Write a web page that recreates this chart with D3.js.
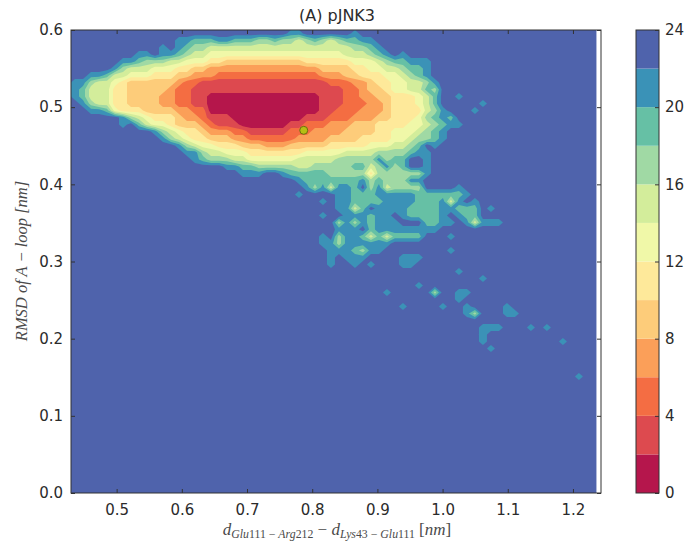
<!DOCTYPE html>
<html>
<head>
<meta charset="utf-8">
<script src="https://cdnjs.cloudflare.com/ajax/libs/d3/7.8.5/d3.min.js"></script>
<style>
  body { margin: 0; background: #fff; }
  text { font-family: "DejaVu Sans", sans-serif; fill: #2b2b2b; }
  .math { font-family: "Liberation Serif", serif; font-style: italic; fill: #4a4a4a; }
</style>
</head>
<body>
<div id="chart"></div>
<script>
//axis ticks
let xTicks = [0.5, 0.6, 0.7, 0.8, 0.9, 1.0, 1.1, 1.2]
let yTicks = [0.0, 0.1, 0.2, 0.3, 0.4, 0.5, 0.6]
let barTicks = [0, 4, 8, 12, 16, 20, 24]

//free energy bands, 2 units each, low to high
let bandEdges = [0, 2, 4, 6, 8, 10, 12, 14, 16, 18, 20, 22, 24]
let bandColors = ['#b5164c', '#dd4a4f', '#f46d43', '#fb9f59', '#fdcc7a', '#fee99a',
                  '#f0f8a8', '#d3ed9b', '#a0d9a4', '#66c0a5', '#3a92b7', '#4f63ac']

//histogram bins
let xStart = 0.43
let xBin = 0.01227
let yStart = 0.6
let yBin = 0.00907

//one string per y bin from the top, one character per x bin: band index in hex, '.' is top band
//spaces are just there to count columns
let energyRows = [
  '..... ..... ..... ..... ..... ..aa. ..... a....',
  '..... ..... ...aa 999aa 99988 98878 98789 9aa..',
  '..... ..... .a.a9 88777 77777 77777 77777 889a.',
  '..... ...aa .aa98 77666 66666 66666 66667 7789a .a...',
  '..... .aa98 88776 66554 44444 44445 55555 66678 99aaa',
  '..... a8777 66655 44333 33333 33333 34444 55667 7899a',
  '..aa9 77666 55544 33322 22222 22222 23334 45556 6789a',
  'aa877 65444 44432 21111 11111 11111 11222 33455 66778 a....',
  'a9777 55444 44322 11111 11111 11111 11112 23445 66779 8....',
  'a9777 55444 43322 11000 00000 00000 01112 23344 55567 9..a.',
  '.a877 55444 43322 11000 00000 00000 01112 22334 55567 9.... .a...',
  '..aa9 65554 44433 22000 00000 00000 01122 23334 55557 8a... a....',
  '..... .a876 55543 32111 00000 00001 11222 33344 55568 9a9..',
  '..... .a.97 66544 43211 10000 00112 22333 44455 55667 89aa.',
  '..... ..... a8765 54333 22111 11222 33334 44455 66678 9a...',
  '..... ..... .a876 55444 33222 22233 33444 45555 66788 9a...',
  '..... ..... ...a8 76655 54443 33444 44555 55666 7789. a....',
  '..... ..... ....a a8776 66555 55556 66667 77788 889aa',
  '..... ..... ..... a9888 77666 66677 77788 888a8 99..a',
  '..... ..... ..... ....a a9988 88877 88888 9978a 89..a',
  '..... ..... ..... ..... .aaa. .a999 99888 88588 8888a',
  '..... ..... ..... ..... ..... ...a9 99999 9a898 88aa.',
  '..... ..... ..... ..... ..... ....a 8a7aa 9.8a7 8888. ...a.',
  '..... ..... ..... ..... ..... ...a. ...aa 999aa aaa99 9999a',
  '..... ..... ..... ..... ..... ..... .a.aa 9999a aaa99 9a7a. a....',
  '..... ..... ..... ..... ..... ..... ...aa 79.aa aa999 9aa99 9.a..',
  '..... ..... ..... ..... ..... ..... .a..a aa9aa .a999 9a.a9 9....',
  '..... ..... ..... ..... ..... ..... ...8a 8a9aa a...9 9aa.a 7aaa.',
  '..... ..... ..... ..... ..... ..... ...aa a.9aa aaaaa a....',
  '..... ..... ..... ..... ..... ..... .a.8a a9797 9999. ..a..',
  '..... ..... ..... ..... ..... ..... .aa8a aaaaa',
  '..... ..... ..... ..... ..... ..... ..aaa 98aa. ..... ..a..',
  '..... ..... ..... ..... ..... ..... ..a.a aa... .aaa.',
  '..... ..... ..... ..... ..... ..... ..a.. a.a.. .aa..',
  '..... ..... ..... ..... ..... ..... ..... ..... ..... ...a.',
  '..... ..... ..... ..... ..... ..... ..... ..... ..... ..... .a...',
  '..... ..... ..... ..... ..... ..... ..... ..... ...a.',
  '..... ..... ..... ..... ..... ..... ..... ....a ..... 8..aa',
  '..... ..... ..... ..... ..... ..... ..... ..... ..... ...a.',
  '..... ..... ..... ..... ..... ..... ..... ..... .a... .a..a ....a',
  '..... ..... ..... ..... ..... ..... ..... ..... ..... ....a 8...a a....',
  '',
  '..... ..... ..... ..... ..... ..... ..... ..... ..... ..... .aaa. ..a.a',
  '..... ..... ..... ..... ..... ..... ..... ..... ..... ..... .a...',
  '..... ..... ..... ..... ..... ..... ..... ..... ..... ..... .a... ..... .a...',
  '..... ..... ..... ..... ..... ..... ..... ..... ..... ..... ..a..',
  '',
  '',
  '',
  '..... ..... ..... ..... ..... ..... ..... ..... ..... ..... ..... ..... ...a.'
]

//marked structure
let markerX = 0.787
let markerY = 0.470

//x label pieces: text, subscript or not, italic or not
let xLabelParts = [
  ['d', false, true], ['Glu', true, true], ['111', true, false], [' \u2212 ', true, false],
  ['Arg', true, true], ['212', true, false], [' \u2212 ', false, false],
  ['d', false, true], ['Lys', true, true], ['43', true, false], [' \u2212 ', true, false],
  ['Glu', true, true], ['111', true, false], [' [', false, false], ['nm', false, true], [']', false, false]
]

let svgWidth = 686
let svgHeight = 548
let margin = { left: 71, right: 85, top: 30, bottom: 55 }
let height = svgHeight - margin.top - margin.bottom
let width = svgWidth - margin.left - margin.right

let svg = d3.select('#chart')
    .append('svg')
    .attr('width', svgWidth)
    .attr('height', svgHeight)

// the reference is a soft upscaled picture
svg.append('defs').append('filter')
    .attr('id', 'soft')
    .append('feGaussianBlur')
    .attr('stdDeviation', 0.7)

let plot = svg.append('g')
    .attr('transform', `translate(${margin.left},${margin.top})`)

let xScale = d3.scaleLinear().domain([0.43, 1.243]).range([0, width])
let yScale = d3.scaleLinear().domain([0, 0.6]).range([height, 0])

//flatten the rows for d3.contours
let nCols = 65
let nRows = energyRows.length
let grid = []
energyRows.forEach(row => {
    row.replace(/ /g, '').padEnd(nCols, '.').split('').forEach(c => {
        let band = c == '.' ? 11 : parseInt(c, 16)
        grid.push(-(band * 2 + 1))
    })
})

// top band is the background
plot.append('rect')
    .attr('width', xScale(1.236))
    .attr('height', height)
    .attr('fill', bandColors[11])

let contours = d3.contours()
    .size([nCols, nRows])
    .thresholds(bandEdges.slice(1, 12).map(d => -d))(grid)

let binPath = d3.geoPath(d3.geoTransform({
    point: function(x, y) {
        this.stream.point(xScale(xStart + x * xBin), yScale(yStart - y * yBin))
    }
}))

//contours come lowest threshold first, so the highest energy goes down first
plot.append('g')
    .attr('filter', 'url(#soft)')
    .selectAll('.band')
    .data(contours)
    .join('path')
    .attr('class', 'band')
    .attr('d', binPath)
    .attr('fill', d => bandColors[-d.value / 2 - 1])

plot.append('circle')
    .attr('cx', xScale(markerX))
    .attr('cy', yScale(markerY))
    .attr('r', 4)
    .attr('fill', '#b4bf14')
    .attr('stroke', '#6f6a10')
    .attr('stroke-width', 1)

//axis
function styleAxis(g) {
    g.select('.domain').remove()
    g.selectAll('line').attr('stroke', '#333')
    g.selectAll('text').attr('font-size', 15).attr('fill', '#2b2b2b')
}

plot.append('g')
    .attr('transform', `translate(0,${height})`)
    .call(d3.axisBottom(xScale).tickValues(xTicks).tickSizeInner(-4).tickPadding(11).tickFormat(d3.format('.1f')))
    .call(styleAxis)

plot.append('g')
    .call(d3.axisTop(xScale).tickValues(xTicks).tickSizeInner(-4).tickFormat(''))
    .call(styleAxis)

plot.append('g')
    .call(d3.axisLeft(yScale).tickValues(yTicks).tickSizeInner(-4).tickPadding(8).tickFormat(d3.format('.1f')))
    .call(styleAxis)

plot.append('g')
    .attr('transform', `translate(${width},0)`)
    .call(d3.axisRight(yScale).tickValues(yTicks).tickSizeInner(-4).tickFormat(''))
    .call(styleAxis)

plot.append('rect')
    .attr('width', width)
    .attr('height', height)
    .attr('fill', 'none')
    .attr('stroke', '#333')

//title
svg.append('text')
    .attr('x', 337)
    .attr('y', 21)
    .attr('text-anchor', 'middle')
    .attr('font-size', 16)
    .text('(A) pJNK3')

// text label for the y axis
svg.append('text')
    .attr('class', 'math')
    .attr('transform', 'translate(27,261) rotate(-90)')
    .attr('text-anchor', 'middle')
    .attr('font-size', 16.5)
    .text('RMSD of A \u2212 loop [nm]')

// text label for the x axis
let xLabel = svg.append('text')
    .attr('class', 'math')
    .attr('x', 337)
    .attr('y', 535)
    .attr('text-anchor', 'middle')
let lastSub = false
xLabelParts.forEach(([txt, sub, italic]) => {
    xLabel.append('tspan')
        .attr('dy', sub == lastSub ? 0 : (sub ? 3 : -3))
        .attr('font-size', sub ? 11.8 : 17)
        .attr('font-style', italic ? 'italic' : 'normal')
        .attr('xml:space', 'preserve')
        .text(txt)
    lastSub = sub
})

//colorbar
let barX = 636
let barWidth = 23
let barScale = d3.scaleLinear().domain([0, 24]).range([height, 0])
let bar = svg.append('g')
    .attr('transform', `translate(${barX},${margin.top})`)

bar.selectAll('rect')
    .data(bandColors)
    .join('rect')
    .attr('y', (d, i) => barScale(bandEdges[i + 1]))
    .attr('width', barWidth)
    .attr('height', (d, i) => barScale(bandEdges[i]) - barScale(bandEdges[i + 1]))
    .attr('fill', d => d)

bar.append('rect')
    .attr('width', barWidth)
    .attr('height', height)
    .attr('fill', 'none')
    .attr('stroke', '#333')

bar.append('g')
    .attr('transform', `translate(${barWidth},0)`)
    .call(d3.axisRight(barScale).tickValues(barTicks).tickSizeInner(-4).tickPadding(6))
    .call(styleAxis)
</script>
</body>
</html>
